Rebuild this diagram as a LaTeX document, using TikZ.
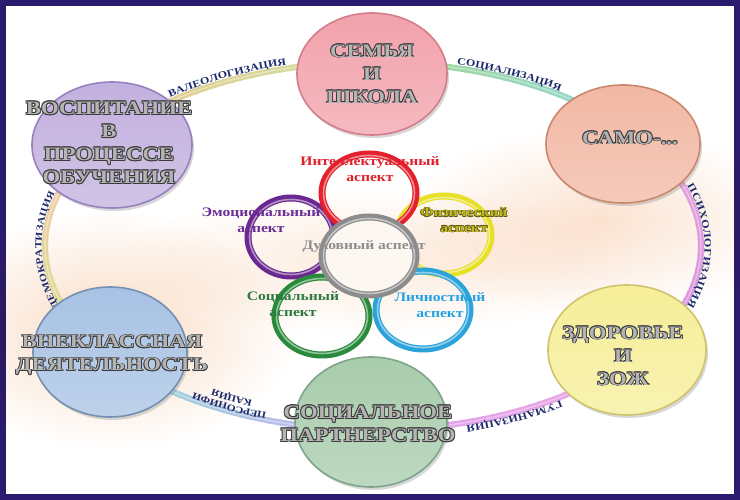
\documentclass[tikz,border=0pt]{standalone}
\usepackage{fontspec}
\setmainfont{Liberation Serif}
\newfontfamily\wf{Liberation Serif}[FakeStretch=1.2]
\usetikzlibrary{shapes.geometric,shadows,decorations.text}

\definecolor{frameC}{HTML}{2B1B6E}
\definecolor{navyT}{HTML}{1C2A6C}
\definecolor{bigO}{HTML}{3A3A3A}
\definecolor{bigF}{HTML}{B4B4B4}
% big circles
\definecolor{pinkC}{HTML}{F2A2AC}\definecolor{pinkCB}{HTML}{D47C8A}
\definecolor{lavC}{HTML}{C2B0DE}\definecolor{lavCB}{HTML}{9880BE}
\definecolor{peachC}{HTML}{F2B8A4}\definecolor{peachCB}{HTML}{C8886E}
\definecolor{yelC}{HTML}{F6EE98}\definecolor{yelCB}{HTML}{CFC46C}
\definecolor{grnC}{HTML}{A8CCAC}\definecolor{grnCB}{HTML}{7EA48A}
\definecolor{bluC}{HTML}{A8C2E4}\definecolor{bluCB}{HTML}{7490B2}
% ring bands
\definecolor{bA1}{HTML}{E8C68E}\definecolor{bA2}{HTML}{D2E0A0}
\definecolor{bB1}{HTML}{A2D88E}\definecolor{bB2}{HTML}{8ED6E2}
\definecolor{bC1}{HTML}{E6A4D8}\definecolor{bC2}{HTML}{D894E4}
\definecolor{bD1}{HTML}{F0A6DE}\definecolor{bD2}{HTML}{DCA2F0}
\definecolor{bE1}{HTML}{C4B2F0}\definecolor{bE2}{HTML}{96DCD6}
\definecolor{bF1}{HTML}{D6E08E}\definecolor{bF2}{HTML}{F8C8AE}
% flower
\definecolor{fRed}{HTML}{E4202C}
\definecolor{fPur}{HTML}{6A2890}
\definecolor{fYel}{HTML}{E6E026}
\definecolor{fGry}{HTML}{8C8C8C}
\definecolor{fGrn}{HTML}{2A8A3C}
\definecolor{fCya}{HTML}{2AA2DA}
\definecolor{fFill}{HTML}{FCF7F1}
\definecolor{redT}{HTML}{E0202C}
\definecolor{purT}{HTML}{6B2C96}
\definecolor{olvO}{HTML}{5E5A10}
\definecolor{olvF}{HTML}{C2BA24}
\definecolor{greyT}{HTML}{8E8E8E}
\definecolor{grnT}{HTML}{2A7A40}
\definecolor{cyaT}{HTML}{22A2E0}
% glows
\definecolor{gl1}{HTML}{F9DAC2}
\definecolor{gl2}{HTML}{FBE2D0}
\definecolor{gl3}{HTML}{FCEADC}

\newcommand\emc[3]{\rlap{\kern#1\raisebox{#2}{#3}}}
\newcommand\emb[4]{\leavevmode\rlap{\color{#2}%
 \emc{-#1}{0pt}{#4}\emc{#1}{0pt}{#4}\emc{0pt}{#1}{#4}\emc{0pt}{-#1}{#4}%
 \emc{-#1}{#1}{#4}\emc{#1}{#1}{#4}\emc{-#1}{-#1}{#4}\emc{#1}{-#1}{#4}}%
 {\color{#3}#4}}
\newcommand\BT[1]{\emb{0.75pt}{bigO}{bigF}{#1}}
\newcommand\rlf{\wf\bfseries\fontsize{10}{12}\selectfont\color{navyT}}
\newcommand\rlfs{\wf\bfseries\fontsize{9.5}{11}\selectfont\color{navyT}}

\newcommand\band[4]{%
 \foreach \k in {0,...,29}{%
  \pgfmathsetmacro\ta{(#1)+((#2)-(#1))*\k/30}%
  \pgfmathsetmacro\tb{(#1)+((#2)-(#1))*(\k+1.3)/30}%
  \pgfmathsetmacro\pc{100-100*\k/29}%
  \draw[line width=6pt, color=#3!\pc!#4] ({373+328*cos(\ta)},{254+184*sin(\ta)}) arc[start angle=\ta, end angle=\tb, x radius=328, y radius=184];
 }}

\tikzset{
 bigc/.style={ellipse, draw=#1B, line width=1.6pt, shade, shading angle=45,
   top color=#1, middle color=#1!25!white, bottom color=#1!75!white,
   drop shadow={opacity=0.3, shadow xshift=2pt, shadow yshift=-3pt}, inner sep=0pt},
 bigtxt/.style={align=center, font=\wf\bfseries\fontsize{19}{23}\selectfont, inner sep=0pt},
 fring/.style={ellipse, draw=#1, line width=7pt, minimum width=94pt, minimum height=78pt, inner sep=0pt},
 flt/.style={align=center, font=\wf\bfseries\fontsize{13}{15.5}\selectfont, inner sep=0pt},
 hl/.style={white, opacity=0.5, line width=1.6pt},
 glow/.style={inner color=#1, outer color=white, blend mode=multiply}
}

\begin{document}
\begin{tikzpicture}[x=1pt,y=1pt]
\useasboundingbox (0,0) rectangle (740,500);
% frame and background
\fill[frameC] (0,0) rectangle (740,500);
\fill[white] (6,6) rectangle (734,494);
\shade[glow=gl1] (110,170) ellipse [x radius=190, y radius=120];
\shade[glow=gl2] (600,280) ellipse [x radius=200, y radius=95];
\shade[glow=gl3] (380,240) ellipse [x radius=260, y radius=75];

% ring bands
\band{145}{90}{bA1}{bA2}
\band{90}{36}{bB1}{bB2}
\band{36}{-36}{bC1}{bC2}
\band{-36}{-90}{bD1}{bD2}
\band{-90}{-144}{bE1}{bE2}
\band{216}{145}{bF1}{bF2}
\draw[white, opacity=0.35, line width=1.5pt] (373,254) ellipse [x radius=328, y radius=184];

% ring labels
\path[decorate, decoration={text along path, text align=center, raise=3.5pt, text={|\rlf|ВАЛЕОЛОГИЗАЦИЯ}}]
 ({373+328*cos(143)},{254+184*sin(143)}) arc[start angle=143, end angle=93, x radius=328, y radius=184];
\path[decorate, decoration={text along path, text align=center, raise=3.5pt, text={|\rlf|СОЦИАЛИЗАЦИЯ}}]
 ({373+328*cos(89)},{254+184*sin(89)}) arc[start angle=89, end angle=39, x radius=328, y radius=184];
\path[decorate, decoration={text along path, text align=center, raise=3.5pt, text={|\rlf|ПСИХОЛОГИЗАЦИЯ}}]
 ({373+328*cos(28)},{254+184*sin(28)}) arc[start angle=28, end angle=-28, x radius=328, y radius=184];
\path[decorate, decoration={text along path, text align=center, raise=3.5pt, text={|\rlf|ГУМАНИЗАЦИЯ}}]
 ({373+328*cos(-38)},{254+184*sin(-38)}) arc[start angle=-38, end angle=-88, x radius=328, y radius=184];
\path[decorate, decoration={text along path, text align=center, raise=-7pt, text={|\rlfs|ПЕРСОНИФИ}}]
 ({373+328*cos(-93)},{254+184*sin(-93)}) arc[start angle=-93, end angle=-143, x radius=328, y radius=184];
\path[decorate, decoration={text along path, text align=center, raise=-16.5pt, text={|\rlfs|КАЦИЯ}}]
 ({373+328*cos(-93)},{254+184*sin(-93)}) arc[start angle=-93, end angle=-143, x radius=328, y radius=184];
\path[decorate, decoration={text along path, text align=center, raise=3.5pt, text={|\rlfs|ДЕМОКРАТИЗАЦИЯ}}]
 ({373+328*cos(209)},{254+184*sin(209)}) arc[start angle=209, end angle=153, x radius=328, y radius=184];

% big circles
\node[bigc=pinkC, minimum width=150pt, minimum height=122pt] (semya) at (372,426) {};
\node[bigc=lavC, minimum width=160pt, minimum height=126pt] (vosp) at (112,355) {};
\node[bigc=peachC, minimum width=154pt, minimum height=118pt] (samo) at (623,356) {};
\node[bigc=yelC, minimum width=158pt, minimum height=130pt] (zdor) at (627,150) {};
\node[bigc=grnC, minimum width=152pt, minimum height=130pt] (socp) at (371,78) {};
\node[bigc=bluC, minimum width=154pt, minimum height=130pt] (vnek) at (110,148) {};

\node[bigtxt] (tSemya) at (372,426) {\BT{СЕМЬЯ}\\\BT{И}\\\BT{ШКОЛА}};
\node[bigtxt] (tVosp) at (109,357) {\BT{ВОСПИТАНИЕ}\\\BT{В}\\\BT{ПРОЦЕССЕ}\\\BT{ОБУЧЕНИЯ}};
\node[bigtxt] (tSamo) at (630,362) {\BT{САМО-...}};
\node[bigtxt] (tZdor) at (623,144) {\BT{ЗДОРОВЬЕ}\\\BT{И}\\\BT{ЗОЖ}};
\node[bigtxt] (tVnek) at (112,145) {\BT{ВНЕКЛАССНАЯ}\\\BT{ДЕЯТЕЛЬНОСТЬ}};
\node[bigtxt] (tSocp) at (368,76) {\BT{СОЦИАЛЬНОЕ}\\\BT{ПАРТНЕРСТВО}};

% flower
\node[fring=fPur, minimum width=86pt] (rPur) at (291,263) {};
\draw[hl] (rPur.center) ellipse [x radius=41.5, y radius=37.5];
\node[fring=fYel] (rYel) at (444,265) {};
\draw[hl] (rYel.center) ellipse [x radius=45.5, y radius=37.5];
\node[fring=fRed] (rRed) at (369,307) {};
\draw[hl] (rRed.center) ellipse [x radius=45.5, y radius=37.5];
\node[fring=fGrn] (rGrn) at (322,184) {};
\draw[hl] (rGrn.center) ellipse [x radius=45.5, y radius=37.5];
\node[fring=fCya] (rCya) at (423,190) {};
\draw[hl] (rCya.center) ellipse [x radius=45.5, y radius=37.5];
\node[fring=fGry, fill=fFill] (rGry) at (369,244) {};
\draw[hl] (rGry.center) ellipse [x radius=45.5, y radius=37.5];

\node[flt, text=redT] (lInt) at (370,331) {Интеллектуальный\\аспект};
\node[flt, text=purT] (lEmo) at (261,280) {Эмоциональный\\аспект};
\node[flt] (lFiz) at (464,280) {\emb{0.4pt}{olvO}{olvF}{Физический}\\\emb{0.4pt}{olvO}{olvF}{аспект}};
\node[flt, text=greyT] (lDuh) at (364,254) {Духовный аспект};
\node[flt, text=grnT] (lSoc) at (293,196) {Социальный\\аспект};
\node[flt, text=cyaT] (lLic) at (440,195) {Личностный\\аспект};
\end{tikzpicture}
\end{document}
